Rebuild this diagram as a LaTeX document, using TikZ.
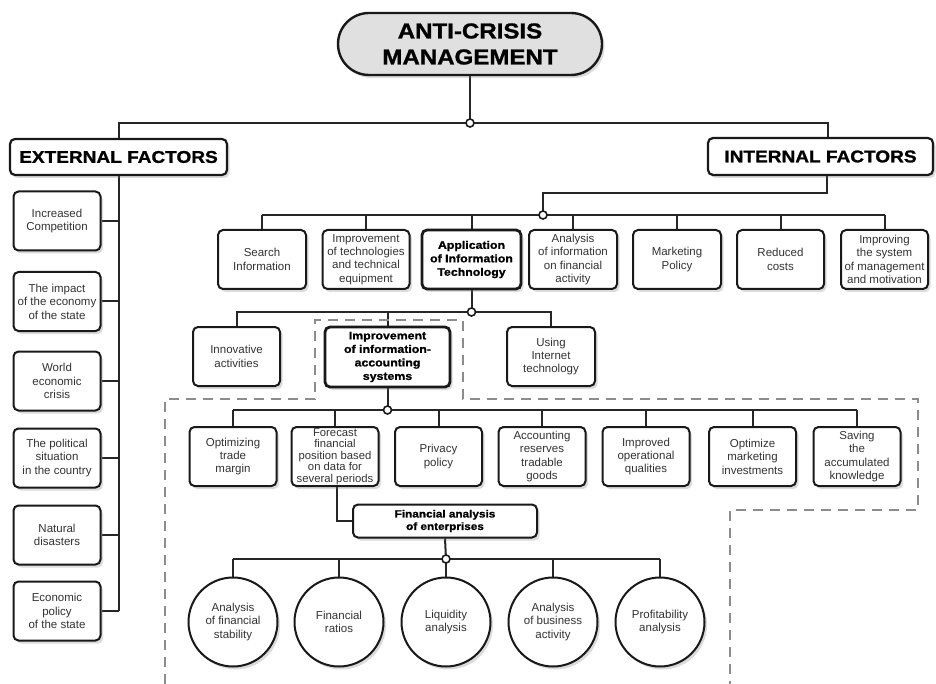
\documentclass[tikz,border=0pt]{standalone}
\usepackage{fontspec}
\setmainfont{Liberation Sans}
\newfontfamily\heavy{Liberation Sans}[FakeStretch=1.12, FakeBold=1.2]
\usetikzlibrary{shadows}
\pgfdeclarelayer{wires}
\pgfsetlayers{wires,main}
\tikzset{
  x=1pt, y=-1pt,
  shade/.style={drop shadow={shadow xshift=2.5pt, shadow yshift=-3pt, opacity=0.28}},
  wire/.style={line width=2pt, draw=black!85},
  box/.style={draw=black!90, line width=2pt, rounded corners=5pt, fill=white,
    align=center, text=black!80, inner sep=1pt,
    font=\fontsize{11.5}{13.4}\selectfont,
    minimum width=87pt, minimum height=59pt, shade},
  keybox/.style={box, line width=2.8pt, text=black,
    font=\heavy\bfseries\fontsize{11}{13.5}\selectfont},
  header/.style={draw=black!90, line width=2.2pt, rounded corners=5pt, fill=white,
    text=black, minimum height=36pt, font=\heavy\bfseries\fontsize{17}{19}\selectfont, shade},
  title/.style={draw=black!90, line width=2.4pt, rounded corners=31pt, fill=black!12,
    align=center, text=black, minimum width=264pt, minimum height=62pt,
    font=\heavy\bfseries\fontsize{21.5}{26}\selectfont, shade},
  ball/.style={circle, draw=black!90, line width=2pt, fill=white, align=center,
    text=black!80, inner sep=0pt, minimum size=89pt,
    font=\fontsize{11.5}{13.4}\selectfont, shade},
  joint/.style={circle, draw=black!90, fill=white, line width=1.6pt,
    inner sep=0pt, minimum size=8pt},
  region/.style={draw=black!45, line width=2pt, dash pattern=on 10pt off 7pt}
}
\begin{document}
\begin{tikzpicture}
\begin{pgfonlayer}{wires}
  \fill[white] (0,0) rectangle (936,684);
\end{pgfonlayer}
\useasboundingbox (0,0) rectangle (936,684);

% dashed grouping outline
\draw[region] (165,684) -- (165,399) -- (315,399) -- (315,320) -- (463,320)
  -- (463,399) -- (918,399) -- (918,510) -- (730,510) -- (730,684);

% root
\node[title] (title) at (470,44) {ANTI-CRISIS\\MANAGEMENT};
\node[joint] (j0) at (470,123) {};

% factor groups
\node[header, minimum width=217pt] (ext) at (118.5,157) {EXTERNAL FACTORS};
\node[header, minimum width=225pt, minimum height=37pt] (int) at (820.5,156.5) {INTERNAL FACTORS};

% external factors column
\node[box] (e1) at (57,221) {Increased\\Competition};
\node[box] (e2) at (57,301.5) {The impact\\of the economy\\of the state};
\node[box] (e3) at (57,381) {World\\economic\\crisis};
\node[box] (e4) at (57,458) {The political\\situation\\in the country};
\node[box] (e5) at (57,535) {Natural\\disasters};
\node[box] (e6) at (57,611) {Economic\\policy\\of the state};

% internal factors row
\node[joint] (j1) at (543,215) {};
\node[box, minimum width=88pt] (r1) at (262,259.5) {Search\\Information};
\node[box] (r2) at (366,259.5) {Improvement\\of technologies\\and technical\\equipment};
\node[keybox, minimum width=99pt] (r3) at (471.5,259.5) {Application\\of Information\\Technology};
\node[box, minimum width=88pt] (r4) at (573,259.5) {Analysis\\of information\\on financial\\activity};
\node[box, minimum width=88pt] (r5) at (677,259.5) {Marketing\\Policy};
\node[box] (r6) at (780.5,259.5) {Reduced\\costs};
\node[box] (r7) at (884.5,259.5) {Improving\\the system\\of management\\and motivation};

% information technology branch
\node[joint] (j2) at (471.5,312) {};
\node[box] (t1) at (236.5,356.5) {Innovative\\activities};
\node[keybox, minimum width=125pt, minimum height=60pt] (t2) at (387.5,357) {Improvement\\of information-\\accounting\\systems};
\node[box, minimum width=88pt] (t3) at (551,356.5) {Using\\Internet\\technology};

% accounting systems branch
\node[joint] (j3) at (387.5,410) {};
\node[box] (a1) at (233,456.5) {Optimizing\\trade\\margin};
\node[box, font=\fontsize{11.3}{11.4}\selectfont] (a2) at (335,456.5) {Forecast\\financial\\position based\\on data for\\several periods};
\node[box] (a3) at (438.5,456.5) {Privacy\\policy};
\node[box] (a4) at (542,456.5) {Accounting\\reserves\\tradable\\goods};
\node[box] (a5) at (646,456.5) {Improved\\operational\\qualities};
\node[box] (a6) at (752.5,456.5) {Optimize\\marketing\\investments};
\node[box] (a7) at (857,456.5) {Saving\\the\\accumulated\\knowledge};

% financial analysis
\node[box, minimum width=184pt, minimum height=33pt, text=black,
  font=\heavy\bfseries\fontsize{10.5}{12.5}\selectfont] (fin) at (445,521) {Financial analysis\\of enterprises};
\node[joint] (j4) at (446,559) {};
\node[ball] (c1) at (233,622) {Analysis\\of financial\\stability};
\node[ball] (c2) at (339,622) {Financial\\ratios};
\node[ball] (c3) at (446,622) {Liquidity\\analysis};
\node[ball] (c4) at (553,622) {Analysis\\of business\\activity};
\node[ball] (c5) at (660,622) {Profitability\\analysis};

\begin{pgfonlayer}{wires}
  % root to groups
  \draw[wire] (title.south) -- (j0.center);
  \draw[wire] (ext.north) |- (j0.center) -| ([xshift=7pt]int.north);
  % external spine
  \draw[wire] (ext.south) -- (ext.south |- e6.east);
  \foreach \n in {e1,e2,e3,e4,e5,e6}
    \draw[wire] (\n.east) -- (\n.east -| ext.south);
  % internal branch
  \draw[wire] ([xshift=6.5pt]int.south) -- ++(0,17) -| (j1.center);
  \draw[wire] (r1.north |- j1.center) -- (r7.north |- j1.center);
  \foreach \n in {r1,r2,r3,r4,r5,r6,r7}
    \draw[wire] (\n.north) -- (\n.north |- j1.center);
  % information technology
  \draw[wire] (r3.south) -- (j2.center);
  \draw[wire] (t1.north) |- (j2.center) -| (t3.north);
  \draw[wire] (t2.north) -- (t2.north |- j2.center);
  % accounting systems
  \draw[wire] (t2.south) -- (j3.center);
  \draw[wire] (a1.north |- j3.center) -- (a7.north |- j3.center);
  \foreach \n in {a1,a2,a3,a4,a5,a6,a7}
    \draw[wire] (\n.north) -- (\n.north |- j3.center);
  % financial analysis
  \draw[wire] ([xshift=2pt]a2.south) |- (fin.west);
  \draw[wire] (fin.south) -- (j4.center);
  \draw[wire] (c1.north |- j4.center) -- (c5.north |- j4.center);
  \foreach \n in {c1,c2,c3,c4,c5}
    \draw[wire] (\n.north) -- (\n.north |- j4.center);
\end{pgfonlayer}
\end{tikzpicture}
\end{document}
